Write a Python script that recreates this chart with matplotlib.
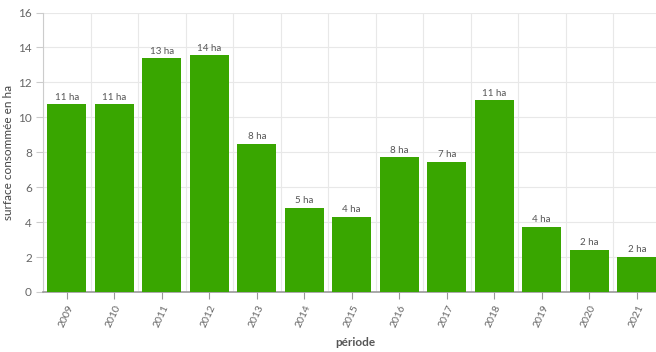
import matplotlib
matplotlib.use("Agg")
import matplotlib.pyplot as plt
import numpy as np

# consumed surface per year, in hectares
years = ["2009", "2010", "2011", "2012", "2013", "2014", "2015",
         "2016", "2017", "2018", "2019", "2020", "2021"]
surface_ha = [10.74, 10.74, 13.37, 13.54, 8.49, 4.8, 4.29,
              7.71, 7.43, 10.97, 3.71, 2.4, 2.02]
labels = [f"{int(v + 0.5)} ha" for v in surface_ha]

BAR_COLOR = "#39a600"
TEXT_GRAY = "#666666"
GRID_GRAY = "#e8e8e8"

plt.rcParams["font.family"] = ["Lato", "DejaVu Sans"]

fig = plt.figure(figsize=(6.56, 3.52), dpi=100)
ax = fig.add_axes([43 / 656, 60 / 352, 617.5 / 656, 279.5 / 352])

x = np.arange(len(years))
bars = ax.bar(x, surface_ha, width=0.82, color=BAR_COLOR, zorder=3)

for rect, txt in zip(bars, labels):
    ax.annotate(txt, (rect.get_x() + rect.get_width() / 2, rect.get_height()),
                xytext=(0, 2), textcoords="offset points",
                ha="center", va="bottom", fontsize=7, color="#555555")

ax.set_xlim(-0.5, len(years) - 0.5)
ax.set_ylim(0, 16)
ax.set_yticks(range(0, 17, 2))

# vertical grid at band edges, horizontal grid at y ticks
ax.set_xticks(x)
ax.set_xticks(np.arange(-0.5, len(years), 1), minor=True)
ax.grid(axis="x", which="minor", color=GRID_GRAY, linewidth=0.8, zorder=0)
ax.grid(axis="y", which="major", color=GRID_GRAY, linewidth=0.8, zorder=0)
ax.tick_params(axis="x", which="minor", length=0)

ax.set_xticklabels(years, rotation=65, ha="right", rotation_mode="anchor",
                   fontsize=7.5, color=TEXT_GRAY)
ax.tick_params(axis="x", which="major", length=5, color="#999999", pad=3)
ax.tick_params(axis="y", length=5, color="#cccccc", labelsize=8.5,
               labelcolor=TEXT_GRAY, pad=3)

for side in ("top", "right"):
    ax.spines[side].set_visible(False)
ax.spines["left"].set_color("#cccccc")
ax.spines["bottom"].set_color("#999999")
ax.spines["bottom"].set_linewidth(1.2)

ax.set_ylabel("surface consommée en ha", fontsize=8.5, color="#444444")
ax.yaxis.set_label_coords(-29 / 617.5, 0.5)
ax.set_xlabel("période", fontsize=8.5, color="#555555", fontweight="bold")
ax.xaxis.set_label_coords((355 - 43) / 617.5, -45 / 279.5)

fig.savefig("out.png", dpi=100)
